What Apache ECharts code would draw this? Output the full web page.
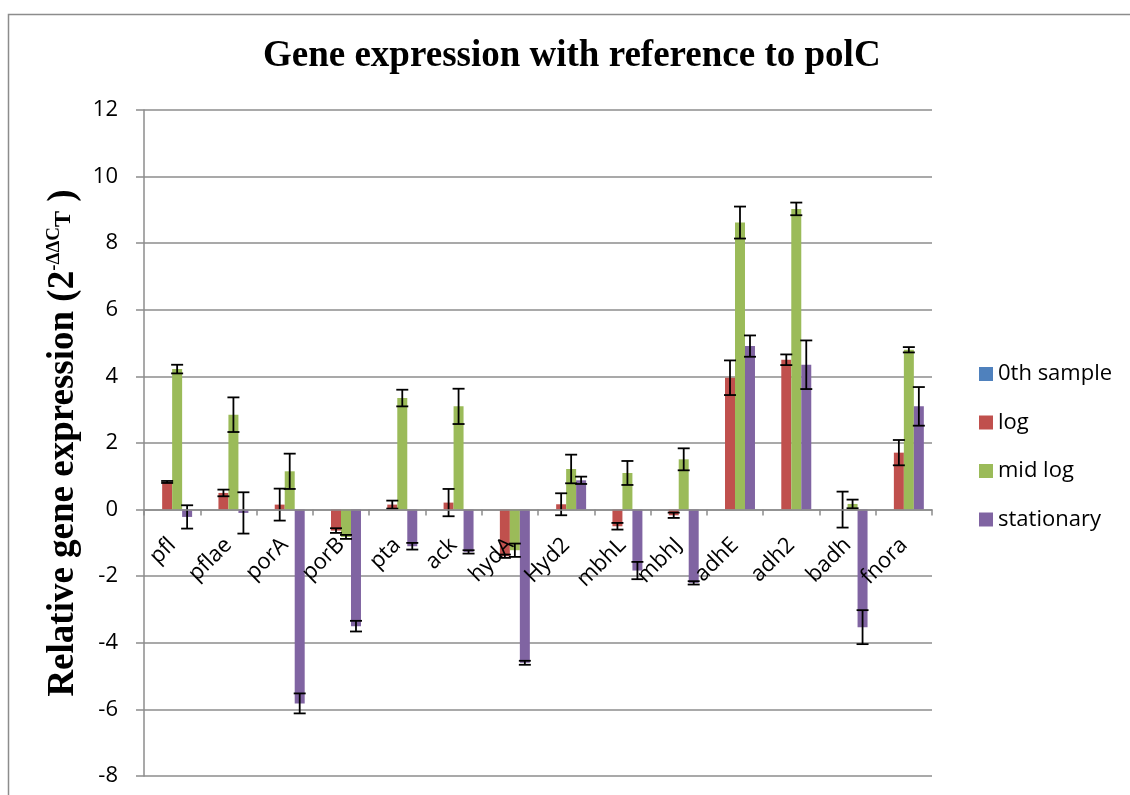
<!DOCTYPE html>
<html>
<head>
<meta charset="utf-8">
<title>Gene expression with reference to polC</title>
<script src="https://cdn.jsdelivr.net/npm/echarts@6/dist/echarts.min.js"></script>
<style>
  html, body { margin: 0; padding: 0; background: #ffffff; }
  #chart { width: 1130px; height: 795px; }
</style>
</head>
<body>
<div id="chart"></div>
<script>
// Gene names on the category axis
const categories = ['pfl', 'pflae', 'porA', 'porB', 'pta', 'ack', 'hydA', 'Hyd2', 'mbhL', 'mbhJ', 'adhE', 'adh2', 'badh', 'fnora'];

// Relative expression (2^-ΔΔCT) per growth phase, with error bar half-heights
const zerothSample = [0, 0, 0, 0, 0, 0, 0, 0, 0, 0, 0, 0, 0, 0];
const logPhase = [0.83, 0.5, 0.15, -0.63, 0.15, 0.21, -1.4, 0.16, -0.5, -0.17, 3.96, 4.5, 0.0, 1.71];
const logErr = [0.03, 0.1, 0.48, 0.07, 0.12, 0.41, 0.05, 0.33, 0.1, 0.08, 0.52, 0.16, 0.54, 0.38];
const midLog = [4.22, 2.85, 1.15, -0.82, 3.35, 3.1, -1.22, 1.22, 1.1, 1.51, 8.62, 9.03, 0.17, 4.8];
const midLogErr = [0.13, 0.52, 0.53, 0.06, 0.25, 0.53, 0.2, 0.43, 0.36, 0.33, 0.48, 0.19, 0.13, 0.08];
const stationary = [-0.22, -0.1, -5.82, -3.5, -1.1, -1.27, -4.6, 0.88, -1.83, -2.2, 4.91, 4.35, -3.53, 3.1];
const stationaryErr = [0.35, 0.62, 0.3, 0.16, 0.1, 0.05, 0.06, 0.11, 0.26, 0.05, 0.32, 0.73, 0.51, 0.58];

const seriesNames = ['0th sample', 'log', 'mid log', 'stationary'];
const colors = ['#4F81BD', '#C0504D', '#9BBB59', '#8064A2'];

const Y_MIN = -8;
const Y_MAX = 12;
const CAT_GAP = 0.29;          // fraction of each band left empty
const BAR_COUNT = 4;
const axisGray = '#8c8c8c';
const sansFont = '"Open Sans", "Noto Sans", sans-serif';
const serifFont = '"Liberation Serif", "DejaVu Serif", serif';

const WIDTH = 1130, HEIGHT = 795;
const GRID = { left: 144, right: 198, top: 110, bottom: 19 };
// The category axis sits on the zero line; shift it up from the grid bottom
const plotHeight = HEIGHT - GRID.top - GRID.bottom;
const zeroOffset = -plotHeight * (0 - Y_MIN) / (Y_MAX - Y_MIN);

function barSeries(idx, values) {
  return {
    name: seriesNames[idx],
    type: 'bar',
    data: values,
    barGap: '0%',
    barCategoryGap: (CAT_GAP * 100) + '%',
    itemStyle: { color: colors[idx] },
    emphasis: { disabled: true },
    z: 2
  };
}

// Vertical error bar with caps, centred on the bar of series `idx`
function errorSeries(idx, values, errs) {
  return {
    type: 'custom',
    silent: true,
    z: 5,
    encode: { x: 0, y: 1 },
    data: values.map((v, i) => [i, v, errs[i]]),
    renderItem: function (params, api) {
      const ci = api.value(0);
      const v = api.value(1);
      const e = api.value(2);
      const band = api.size([1, 0])[0];
      const bw = band * (1 - CAT_GAP) / BAR_COUNT;
      const xc = api.coord([ci, v])[0] + (idx - (BAR_COUNT - 1) / 2) * bw;
      const yHi = api.coord([ci, v + e])[1];
      const yLo = api.coord([ci, v - e])[1];
      const half = bw / 2 + 1;
      const style = { stroke: '#000000', lineWidth: 1.8 };
      return {
        type: 'group',
        children: [
          { type: 'line', shape: { x1: xc, y1: yHi, x2: xc, y2: yLo }, style: style },
          { type: 'line', shape: { x1: xc - half, y1: yHi, x2: xc + half, y2: yHi }, style: style },
          { type: 'line', shape: { x1: xc - half, y1: yLo, x2: xc + half, y2: yLo }, style: style }
        ]
      };
    }
  };
}

const chart = echarts.init(document.getElementById('chart'), null, { renderer: 'canvas', width: WIDTH, height: HEIGHT });

chart.setOption({
  backgroundColor: '#ffffff',
  animation: false,
  title: {
    text: 'Gene expression with reference to polC',
    left: 263,
    top: 38,
    padding: 0,
    textStyle: { fontFamily: serifFont, fontWeight: 'bold', fontSize: 37, color: '#000000' }
  },
  graphic: [{
    type: 'rect',
    silent: true,
    shape: { x: 8.5, y: 14.5, width: 1300, height: 900 },
    style: { fill: 'none', stroke: axisGray, lineWidth: 1.5 }
  }],
  legend: {
    data: seriesNames,
    orient: 'vertical',
    left: 974,
    top: 358,
    itemWidth: 14,
    itemHeight: 14,
    itemGap: 26.5,
    icon: 'rect',
    selectedMode: false,
    textStyle: { fontFamily: sansFont, fontSize: 22, color: '#000000' }
  },
  grid: {
    left: GRID.left, right: GRID.right, top: GRID.top, bottom: GRID.bottom,
    containLabel: false,
    outerBoundsMode: 'none'
  },
  xAxis: {
    type: 'category',
    data: categories,
    position: 'bottom',
    offset: zeroOffset,
    z: 8,
    axisLine: { onZero: false, lineStyle: { color: axisGray, width: 1.5 } },
    axisTick: { show: true, length: 6, alignWithLabel: false, lineStyle: { color: axisGray, width: 1.5 } },
    axisLabel: {
      interval: 0,
      rotate: 45,
      margin: 32,
      fontFamily: sansFont,
      fontSize: 22,
      color: '#000000'
    },
    splitLine: { show: false }
  },
  yAxis: {
    type: 'value',
    min: Y_MIN,
    max: Y_MAX,
    interval: 2,
    name: '{a|Relative gene expression (2}{sup|-ΔΔC}{sub|T}{a| )}',
    nameLocation: 'middle',
    nameGap: 54,
    nameTextStyle: {
      fontFamily: serifFont,
      fontWeight: 'bold',
      fontSize: 37,
      color: '#000000',
      rich: {
        a: { fontFamily: serifFont, fontWeight: 'bold', fontSize: 37, color: '#000000' },
        sup: { fontFamily: serifFont, fontWeight: 'bold', fontSize: 19, color: '#000000', verticalAlign: 'top' },
        sub: { fontFamily: serifFont, fontWeight: 'bold', fontSize: 24, color: '#000000', verticalAlign: 'middle' }
      }
    },
    axisLine: { show: true, lineStyle: { color: axisGray, width: 1.5 } },
    axisTick: { show: true, length: 8, lineStyle: { color: axisGray, width: 1.5 } },
    axisLabel: { margin: 26, fontFamily: sansFont, fontSize: 22, color: '#000000' },
    splitLine: { show: true, lineStyle: { color: axisGray, width: 1.5 } }
  },
  series: [
    barSeries(0, zerothSample),
    barSeries(1, logPhase),
    barSeries(2, midLog),
    barSeries(3, stationary),
    errorSeries(1, logPhase, logErr),
    errorSeries(2, midLog, midLogErr),
    errorSeries(3, stationary, stationaryErr)
  ]
});
</script>
</body>
</html>
